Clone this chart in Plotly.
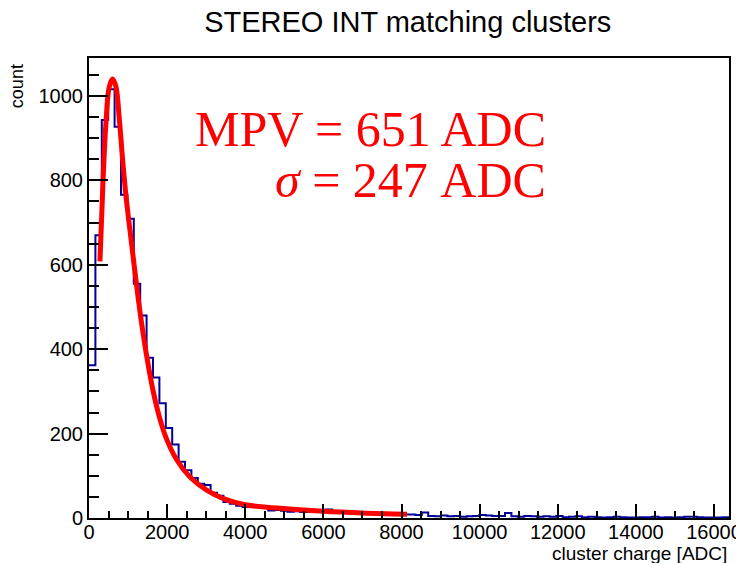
import plotly.graph_objects as go

# histogramm: 100 bins von 0 bis 16384 ADC
n_bins = 100
x_min = 0
x_max = 16384

counts = [362, 670, 943, 1016, 927, 766, 709, 555, 480, 380,
          333, 272, 213, 174, 133, 113, 95, 81, 78, 60,
          53, 38, 34, 29, 26, 27, 26, 25, 18, 19,
          17, 15, 16, 14, 15, 19, 18, 20, 14, 12,
          13, 11, 10, 12, 11, 9, 10, 9, 11, 8,
          8, 7, 13, 5, 4, 6, 4, 5, 3, 4,
          5, 7, 6, 5, 5, 12, 4, 3, 5, 4,
          3, 4, 3, 5, 2, 3, 4, 2, 3, 2,
          1, 2, 3, 2, 1, 1, 2, 2, 3, 1,
          2, 1, 2, 3, 3, 2, 1, 1, 1, 2]

# fit-kurve
fit_x = [280, 360, 430, 515, 600, 690, 770, 860, 945, 1090,
         1260, 1346, 1474, 1644, 1815, 1987, 2244, 2585, 3013, 3440,
         4040, 4890, 6000, 7000, 8140]
fit_y = [608, 800, 930, 1020, 1040, 1022, 952, 850, 765, 650,
         520, 462, 385, 300, 235, 187, 138, 97, 66, 46,
         31, 23, 16, 12, 9]

title = "STEREO INT matching clusters"
x_title = "cluster charge [ADC]"
y_title = "count"
label_mpv = "MPV = 651 ADC"
label_sigma = "<i>σ</i> = 247 ADC"

width = (x_max - x_min) / n_bins
edges = [x_min + i * width for i in range(n_bins + 1)]
step_x = edges
step_y = counts + [counts[-1]]

fig = go.Figure()
fig.add_trace(go.Scatter(x=step_x, y=step_y, mode="lines", line_shape="hv",
                         line=dict(color="#000099", width=2), showlegend=False))
fig.add_trace(go.Scatter(x=fit_x, y=fit_y, mode="lines", line_shape="spline",
                         line=dict(color="#ff0000", width=5), showlegend=False))

font = "Liberation Sans, Arial, sans-serif"
fig.update_layout(
    width=736, height=563,
    margin=dict(l=89, r=7, t=58, b=45),
    plot_bgcolor="white", paper_bgcolor="white",
    font=dict(family=font, color="black", size=20),
    title=dict(text=title, x=0.554, xanchor="center", y=0.961, yanchor="middle",
               font=dict(size=29, family=font)),
)
fig.update_xaxes(range=[x_min, x_max], showgrid=False, zeroline=False, automargin=False,
                 showline=True, linecolor="black", linewidth=2, mirror=True,
                 ticks="inside", ticklen=14, tickwidth=2, tickcolor="black", dtick=2000,
                 tickformat="d", ticklabeloverflow="allow", ticklabelstandoff=-5,
                 minor=dict(ticks="inside", ticklen=7, tickwidth=2, dtick=500, tickcolor="black"),
                 tickfont=dict(size=20))
fig.update_yaxes(range=[0, 1090], showgrid=False, zeroline=False, automargin=False,
                 showline=True, linecolor="black", linewidth=2, mirror=True,
                 ticks="inside", ticklen=19, tickwidth=2, tickcolor="black", dtick=200,
                 tickformat="d",
                 minor=dict(ticks="inside", ticklen=10, tickwidth=2, dtick=50, tickcolor="black"),
                 tickfont=dict(size=20))

# achsentitel rechts/oben wie in ROOT
fig.add_annotation(text=x_title, xref="paper", yref="paper", x=1.0, y=-0.077,
                   xanchor="right", yanchor="middle", showarrow=False, font=dict(size=19))
fig.add_annotation(text=y_title, xref="paper", yref="paper", x=-0.1125, y=0.991,
                   xanchor="center", yanchor="top", textangle=-90, showarrow=False,
                   font=dict(size=18))

serif = "Liberation Serif, Times New Roman, serif"
fig.add_annotation(text=label_mpv, xref="paper", yref="paper", x=0.717, y=0.846,
                   xanchor="right", yanchor="middle", showarrow=False,
                   font=dict(size=50, family=serif, color="#ff0000"))
fig.add_annotation(text=label_sigma, xref="paper", yref="paper", x=0.717, y=0.735,
                   xanchor="right", yanchor="middle", showarrow=False,
                   font=dict(size=50, family=serif, color="#ff0000"))

# seitenrand des browsers entfernen
fig.write_html("out.html", config={"displayModeBar": False},
               post_script="document.body.style.margin='0';")
